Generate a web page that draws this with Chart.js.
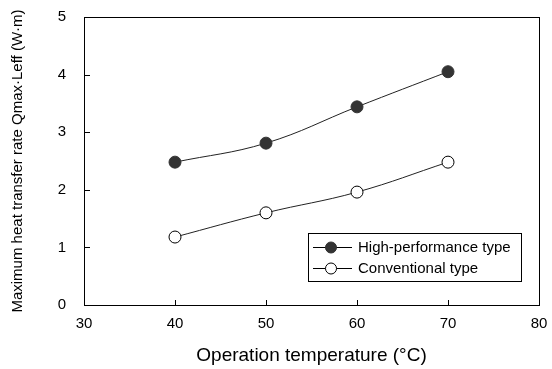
<!DOCTYPE html>
<html>
<head>
<meta charset="utf-8">
<script src="https://cdn.jsdelivr.net/npm/chart.js@4/dist/chart.umd.min.js"></script>
<style>
html,body{margin:0;padding:0;background:#fff;}
#wrap{width:552px;height:369px;position:relative;}
</style>
</head>
<body>
<div id="wrap"><canvas id="c" width="552" height="369"></canvas></div>
<script>
const temperatures = [40, 50, 60, 70];
const highPerformance = [2.48, 2.81, 3.44, 4.05];
const conventional = [1.18, 1.60, 1.96, 2.48];
const seriesNames = ['High-performance type', 'Conventional type'];
const xTicks = [30, 40, 50, 60, 70, 80];
const yTicks = [0, 1, 2, 3, 4, 5];
const xTitle = 'Operation temperature (\u00B0C)';
const yTitle = 'Maximum heat transfer rate Qmax\u00B7Leff (W\u00B7m)';

const FONT = 'Arial, "Liberation Sans", sans-serif';

const framePlugin = {
  id: 'frame',
  afterDatasetsDraw(chart) {
    const {ctx, chartArea: a, scales} = chart;
    ctx.save();
    ctx.strokeStyle = '#000';
    ctx.lineWidth = 1;
    ctx.strokeRect(Math.round(a.left) + 0.5, Math.round(a.top) + 0.5, Math.round(a.right - a.left), Math.round(a.bottom - a.top));
    ctx.beginPath();
    scales.x.ticks.forEach((t, i) => {
      const px = Math.round(scales.x.getPixelForTick(i)) + 0.5;
      ctx.moveTo(px, a.bottom);
      ctx.lineTo(px, a.bottom - 5);
    });
    scales.y.ticks.forEach((t, i) => {
      const py = Math.round(scales.y.getPixelForTick(i)) + 0.5;
      ctx.moveTo(a.left, py);
      ctx.lineTo(a.left + 6, py);
    });
    ctx.stroke();
    ctx.restore();
  },
  afterDraw(chart) {
    const {ctx} = chart;
    const bx = 308, by = 233, bw = 213, bh = 48;
    ctx.save();
    ctx.fillStyle = '#fff';
    ctx.fillRect(bx, by, bw, bh);
    ctx.strokeStyle = '#000';
    ctx.lineWidth = 1;
    ctx.strokeRect(bx + 0.5, by + 0.5, bw, bh);
    const rows = [247, 268];
    chart.data.datasets.forEach((ds, i) => {
      const y = rows[i];
      ctx.beginPath();
      ctx.strokeStyle = '#000';
      ctx.lineWidth = 1;
      ctx.moveTo(313, y + 0.5);
      ctx.lineTo(352, y + 0.5);
      ctx.stroke();
      ctx.beginPath();
      ctx.arc(331, y + 0.5, 5.5, 0, Math.PI * 2);
      ctx.fillStyle = ds.pointBackgroundColor;
      ctx.fill();
      ctx.strokeStyle = ds.pointBorderColor;
      ctx.stroke();
      ctx.fillStyle = '#000';
      ctx.font = '15px ' + FONT;
      ctx.textBaseline = 'middle';
      ctx.fillText(ds.label, 358, y + 1);
    });
    ctx.restore();
  }
};

new Chart(document.getElementById('c'), {
  type: 'line',
  data: {
    datasets: [
      {
        label: seriesNames[0],
        data: temperatures.map((t, i) => ({x: t, y: highPerformance[i]})),
        borderColor: '#222',
        borderWidth: 1,
        pointRadius: 6,
        pointBackgroundColor: '#333',
        pointBorderColor: '#333',
        pointBorderWidth: 1,
        tension: 0.4
      },
      {
        label: seriesNames[1],
        data: temperatures.map((t, i) => ({x: t, y: conventional[i]})),
        borderColor: '#222',
        borderWidth: 1,
        pointRadius: 6,
        pointBackgroundColor: '#fff',
        pointBorderColor: '#000',
        pointBorderWidth: 1,
        tension: 0.4
      }
    ]
  },
  options: {
    responsive: false,
    animation: false,
    layout: {padding: {top: 17, right: 13, left: 0, bottom: 0}},
    plugins: {legend: {display: false}, tooltip: {enabled: false}},
    scales: {
      x: {
        type: 'linear',
        min: 30, max: 80,
        afterBuildTicks(s) { s.ticks = xTicks.map(v => ({value: v})); },
        afterFit(s) { s.height = 64; s.paddingLeft = 0; s.paddingRight = 0; },
        grid: {display: false, drawTicks: false},
        border: {display: false},
        ticks: {color: '#000', padding: 10, font: {size: 15, family: FONT}},
        title: {display: true, text: xTitle, color: '#000', font: {size: 19, family: FONT}, padding: {top: 0, bottom: 2}}
      },
      y: {
        type: 'linear',
        min: 0, max: 5,
        afterBuildTicks(s) { s.ticks = yTicks.map(v => ({value: v})); },
        afterFit(s) { s.width = 84; s.paddingTop = 0; s.paddingBottom = 0; },
        grid: {display: false, drawTicks: false},
        border: {display: false},
        ticks: {color: '#000', padding: 18, font: {size: 15, family: FONT}},
        title: {display: true, text: yTitle, color: '#000', font: {size: 15, family: FONT}, padding: {top: 9, bottom: 0}}
      }
    }
  },
  plugins: [framePlugin]
});
</script>
</body>
</html>
